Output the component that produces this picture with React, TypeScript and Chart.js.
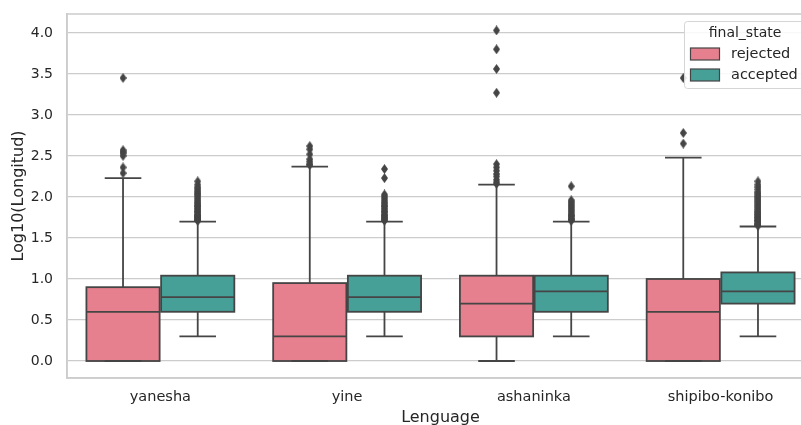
import { useEffect, useRef } from 'react';
import { Chart, registerables } from 'chart.js';
Chart.register(...registerables);

// ---- data ----
const languages = ['yanesha', 'yine', 'ashaninka', 'shipibo-konibo'];
const yTicks = [0, 0.5, 1.0, 1.5, 2.0, 2.5, 3.0, 3.5, 4.0];

const rejectedLow = [0, 0, 0, 0];
const rejectedQ1 = [0, 0, 0.3, 0];
const rejectedMedian = [0.6, 0.3, 0.7, 0.6];
const rejectedQ3 = [0.9, 0.95, 1.04, 1.0];
const rejectedHigh = [2.23, 2.37, 2.15, 2.48];

const acceptedLow = [0.3, 0.3, 0.3, 0.3];
const acceptedQ1 = [0.6, 0.6, 0.6, 0.7];
const acceptedMedian = [0.78, 0.78, 0.85, 0.85];
const acceptedQ3 = [1.04, 1.04, 1.04, 1.08];
const acceptedHigh = [1.7, 1.7, 1.7, 1.64];

const rejectedOutliersYanesha = [3.45, 2.57, 2.55, 2.53, 2.5, 2.36, 2.29];
const rejectedOutliersYine = [2.62, 2.58, 2.52, 2.46, 2.43, 2.4, 2.39];
const rejectedOutliersAshaninka = [4.03, 3.8, 3.56, 3.27, 2.4, 2.36, 2.32, 2.28, 2.25, 2.21, 2.18, 2.16];
const rejectedOutliersShipibo = [3.45, 2.78, 2.65];

const acceptedOutliersYanesha = [1.71, 1.72, 1.72, 1.73, 1.74, 1.75, 1.76, 1.76, 1.77, 1.78, 1.79, 1.81, 1.82, 1.83, 1.85, 1.86, 1.88, 1.89, 1.9, 1.92, 1.93, 1.95, 1.97, 1.99, 2.01, 2.03, 2.04, 2.06, 2.08, 2.1, 2.12, 2.15, 2.19];
const acceptedOutliersYine = [1.71, 1.72, 1.73, 1.74, 1.75, 1.76, 1.77, 1.78, 1.79, 1.81, 1.82, 1.83, 1.85, 1.86, 1.88, 1.89, 1.9, 1.92, 1.93, 1.95, 1.97, 1.99, 2.01, 2.03, 2.23, 2.34];
const acceptedOutliersAshaninka = [1.71, 1.72, 1.73, 1.74, 1.76, 1.77, 1.78, 1.8, 1.82, 1.84, 1.86, 1.88, 1.9, 1.92, 1.94, 1.96, 2.13];
const acceptedOutliersShipibo = [1.65, 1.66, 1.67, 1.68, 1.7, 1.71, 1.72, 1.74, 1.75, 1.76, 1.78, 1.79, 1.81, 1.82, 1.84, 1.86, 1.88, 1.9, 1.92, 1.94, 1.96, 1.98, 2.0, 2.02, 2.04, 2.06, 2.09, 2.12, 2.15, 2.19];

const rejectedOutliers = [rejectedOutliersYanesha, rejectedOutliersYine, rejectedOutliersAshaninka, rejectedOutliersShipibo];
const acceptedOutliers = [acceptedOutliersYanesha, acceptedOutliersYine, acceptedOutliersAshaninka, acceptedOutliersShipibo];

const seriesNames = ['rejected', 'accepted'];
const legendTitle = 'final_state';
const xTitle = 'Lenguage';
const yTitle = 'Log10(Longitud)';

// ---- styles ----
const PINK = '#e6808f';
const TEAL = '#47a098';
const LINE = '#454545';
const GRID = '#cccccc';
const TEXT = '#262626';
const FONT = "'DejaVu Sans', sans-serif";
const W = 830;
const H = 425;
const DODGE = 0.2; // hue offset within a category
const BOX_HALF = 0.196; // half box width in category units

function makeDiamond() {
  const c = document.createElement('canvas');
  c.width = 7;
  c.height = 10;
  const g = c.getContext('2d')!;
  g.fillStyle = LINE;
  g.beginPath();
  g.moveTo(3.5, 0);
  g.lineTo(7, 5);
  g.lineTo(3.5, 10);
  g.lineTo(0, 5);
  g.closePath();
  g.fill();
  return c;
}

export default function App() {
  const ref = useRef<HTMLCanvasElement>(null);

  useEffect(() => {
    const canvas = ref.current!;
    const diamond = makeDiamond();

    const outlierPoints = (lists: number[][], offset: number) => {
      const pts: { x: number; y: number }[] = [];
      lists.forEach((list, i) => list.forEach((v) => pts.push({ x: i + offset, y: v })));
      return pts;
    };

    const groups = [
      { off: -DODGE, color: PINK, low: rejectedLow, q1: rejectedQ1, med: rejectedMedian, q3: rejectedQ3, high: rejectedHigh },
      { off: DODGE, color: TEAL, low: acceptedLow, q1: acceptedQ1, med: acceptedMedian, q3: acceptedQ3, high: acceptedHigh },
    ];

    const boxPlugin = {
      id: 'boxParts',
      beforeDatasetsDraw(chart: any) {
        const ctx = chart.ctx;
        const xs = chart.scales.x;
        const ys = chart.scales.y;
        ctx.save();
        ctx.strokeStyle = LINE;
        ctx.lineWidth = 1.8;
        ctx.lineJoin = 'miter';
        groups.forEach((g) => {
          languages.forEach((_, i) => {
            const c = i + g.off;
            const xc = xs.getPixelForValue(c);
            const xl = xs.getPixelForValue(c - BOX_HALF);
            const xr = xs.getPixelForValue(c + BOX_HALF);
            const capL = xs.getPixelForValue(c - BOX_HALF / 2);
            const capR = xs.getPixelForValue(c + BOX_HALF / 2);
            const yq1 = ys.getPixelForValue(g.q1[i]);
            const yq3 = ys.getPixelForValue(g.q3[i]);
            const ylo = ys.getPixelForValue(g.low[i]);
            const yhi = ys.getPixelForValue(g.high[i]);
            const ymed = ys.getPixelForValue(g.med[i]);
            ctx.fillStyle = g.color;
            ctx.fillRect(xl, yq3, xr - xl, yq1 - yq3);
            ctx.beginPath();
            ctx.moveTo(xc, yq3);
            ctx.lineTo(xc, yhi);
            ctx.moveTo(xc, yq1);
            ctx.lineTo(xc, ylo);
            ctx.moveTo(capL, yhi);
            ctx.lineTo(capR, yhi);
            ctx.moveTo(capL, ylo);
            ctx.lineTo(capR, ylo);
            ctx.moveTo(xl, ymed);
            ctx.lineTo(xr, ymed);
            ctx.stroke();
            ctx.strokeRect(xl, yq3, xr - xl, yq1 - yq3);
          });
        });
        ctx.restore();
      },
      afterDraw(chart: any) {
        const ctx = chart.ctx;
        const a = chart.chartArea;
        ctx.save();
        ctx.strokeStyle = GRID;
        ctx.lineWidth = 1.5;
        ctx.strokeRect(a.left, a.top, a.right - a.left, a.bottom - a.top);
        // legend
        const lx = 684.5, ly = 21.5, lw = 122, lh = 67;
        ctx.fillStyle = 'rgba(255,255,255,0.85)';
        ctx.strokeStyle = '#d5d5d5';
        ctx.lineWidth = 1;
        ctx.beginPath();
        ctx.roundRect(lx, ly, lw, lh, 3);
        ctx.fill();
        ctx.stroke();
        ctx.fillStyle = TEXT;
        ctx.font = `14px ${FONT}`;
        ctx.textAlign = 'center';
        ctx.textBaseline = 'middle';
        ctx.fillText(legendTitle, 745, 33);
        const colors = [PINK, TEAL];
        const rows = [54, 75];
        seriesNames.forEach((n, k) => {
          ctx.fillStyle = colors[k];
          ctx.fillRect(690.5, rows[k] - 6, 29, 12);
          ctx.strokeStyle = LINE;
          ctx.lineWidth = 1.2;
          ctx.strokeRect(690.5, rows[k] - 6, 29, 12);
          ctx.fillStyle = TEXT;
          ctx.font = `14.5px ${FONT}`;
          ctx.textAlign = 'left';
          ctx.fillText(n, 731, rows[k]);
        });
        ctx.restore();
      },
    };

    const chart = new Chart(canvas, {
      type: 'scatter',
      data: {
        datasets: [
          {
            label: 'rejected outliers',
            data: outlierPoints(rejectedOutliers, -DODGE),
            pointStyle: diamond,
            pointRadius: 4,
          } as any,
          {
            label: 'accepted outliers',
            data: outlierPoints(acceptedOutliers, DODGE),
            pointStyle: diamond,
            pointRadius: 4,
          } as any,
        ],
      },
      options: {
        responsive: false,
        animation: false,
        layout: { padding: { top: 14, right: 16, left: 0, bottom: 0 } },
        plugins: { legend: { display: false }, tooltip: { enabled: false } },
        scales: {
          x: {
            type: 'linear',
            min: -0.5,
            max: 3.5,
            offset: false,
            grid: { display: false, drawTicks: false },
            border: { display: true, color: GRID, width: 1.5 },
            afterBuildTicks: (s: any) => {
              s.ticks = languages.map((_, i) => ({ value: i }));
            },
            ticks: {
              color: TEXT,
              font: { family: FONT, size: 14.5 },
              padding: 11,
              autoSkip: false,
              maxRotation: 0,
              callback: (v: any) => languages[Math.round(Number(v))],
            },
            title: {
              display: true,
              text: xTitle,
              color: TEXT,
              font: { family: FONT, size: 16 },
              padding: { top: 0, bottom: -2 },
            },
            afterFit: (s: any) => {
              s.height = 47;
              s.paddingLeft = 0;
              s.paddingRight = 0;
            },
          },
          y: {
            type: 'linear',
            min: -0.207,
            max: 4.23,
            grid: { color: GRID, lineWidth: 1.2, drawTicks: false },
            border: { display: true, color: GRID, width: 1.5 },
            afterBuildTicks: (s: any) => {
              s.ticks = yTicks.map((v) => ({ value: v }));
            },
            ticks: {
              color: TEXT,
              font: { family: FONT, size: 14 },
              padding: 14,
              callback: (v: any) => Number(v).toFixed(1),
            },
            title: {
              display: true,
              text: yTitle,
              color: TEXT,
              font: { family: FONT, size: 16 },
              padding: { top: 9, bottom: 0 },
            },
            afterFit: (s: any) => {
              s.width = 67;
              s.paddingTop = 0;
              s.paddingBottom = 0;
            },
          },
        },
      },
      plugins: [boxPlugin],
    });
    return () => chart.destroy();
  }, []);

  return (
    <div style={{ position: 'fixed', left: 0, top: 0, width: 801, height: 425, overflow: 'hidden', background: '#fff' }}>
      <canvas ref={ref} width={W} height={H} style={{ display: 'block', width: W, height: H }} />
    </div>
  );
}
